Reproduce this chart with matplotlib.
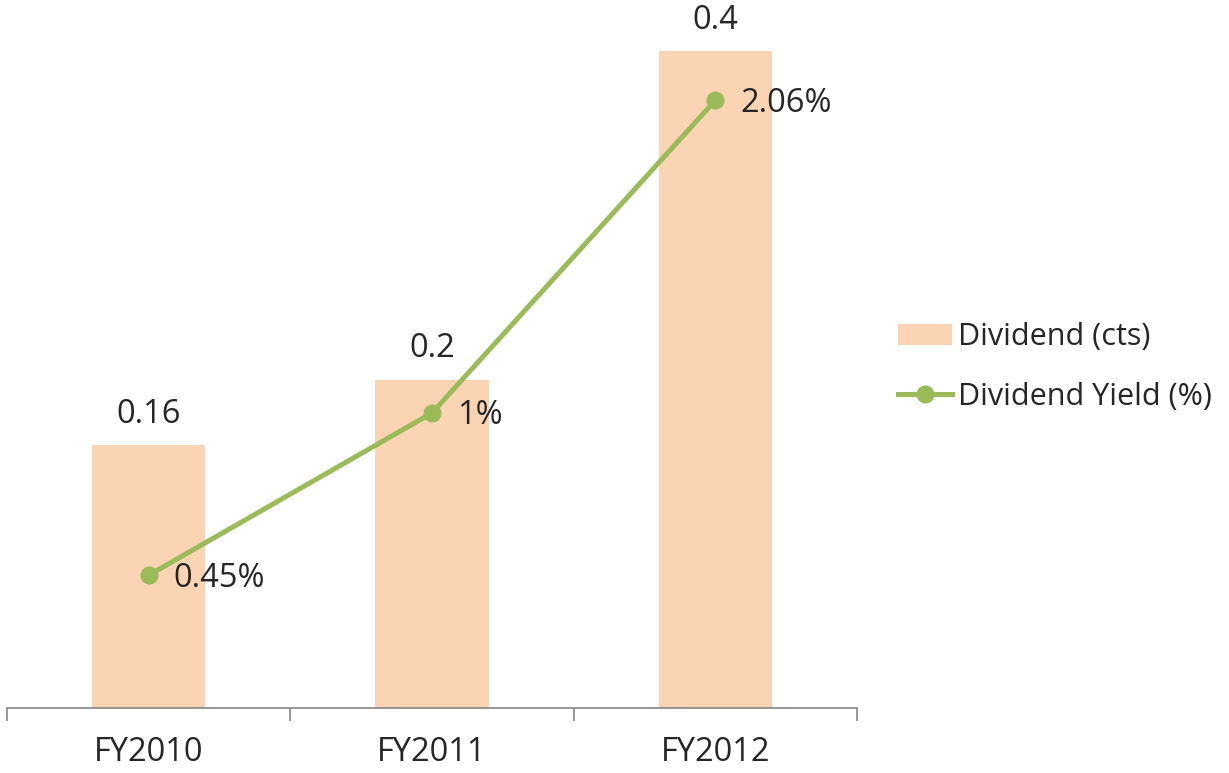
import matplotlib.pyplot as plt
import numpy as np

plt.rcParams['font.family'] = ['Open Sans', 'DejaVu Sans']

years = ['FY2010', 'FY2011', 'FY2012']
dividend = [0.16, 0.2, 0.4]
dividend_yield = [0.45, 1, 2.06]
yield_labels = ['0.45%', '1%', '2.06%']

bar_color = '#FBD4B4'
line_color = '#9BBB59'
text_color = '#262626'
fs = 23.5

fig = plt.figure(figsize=(12.29, 7.73), dpi=100)
ax = fig.add_axes([7 / 1229, 65 / 773, 850 / 1229, 698 / 773])
ax2 = ax.twinx()

x = np.arange(len(years))
bars = ax.bar(x, dividend, width=0.4, color=bar_color, label='Dividend (cts)', zorder=1)
line, = ax2.plot(x, dividend_yield, color=line_color, lw=3.6, marker='o', ms=12,
                 label='Dividend Yield (%)', zorder=3)

ax.set_xlim(-0.5, 2.5)
ax.set_ylim(0, 0.425)
ax2.set_ylim(0, 2.366)

# value labels above the bars
for xi, v in zip(x, dividend):
    ax.annotate(f'{v:g}', (xi, v), xytext=(0, 16), textcoords='offset points',
                ha='center', va='baseline', fontsize=fs, color=text_color)

# yield labels to the right of the points
for xi, v, lab in zip(x, dividend_yield, yield_labels):
    ax2.annotate(lab, (xi, v), xytext=(18, -2), textcoords='offset points',
                 ha='left', va='center', fontsize=fs, color=text_color, zorder=4)

for a in (ax, ax2):
    for s in ['top', 'right', 'left']:
        a.spines[s].set_visible(False)
    a.set_yticks([])
ax2.spines['bottom'].set_visible(False)
ax.spines['bottom'].set_color('#868686')
ax.spines['bottom'].set_linewidth(1.2)

ax.set_xticks([-0.5, 0.5, 1.5, 2.5])
ax.set_xticklabels([])
ax.set_xticks(x, minor=True)
ax.set_xticklabels(years, minor=True, fontsize=fs, color=text_color)
ax.tick_params(axis='x', which='major', length=9, width=1.2, color='#868686', direction='out')
ax.tick_params(axis='x', which='minor', length=0, pad=20)

fig.legend([bars, line], ['Dividend (cts)', 'Dividend Yield (%)'],
           loc='center left', bbox_to_anchor=(874 / 1229, 1 - 367 / 773),
           frameon=False, fontsize=22, labelcolor=text_color,
           handlelength=1.75, handletextpad=0.2, labelspacing=0.95,
           borderpad=0.3)

fig.savefig('out.png', dpi=100)
